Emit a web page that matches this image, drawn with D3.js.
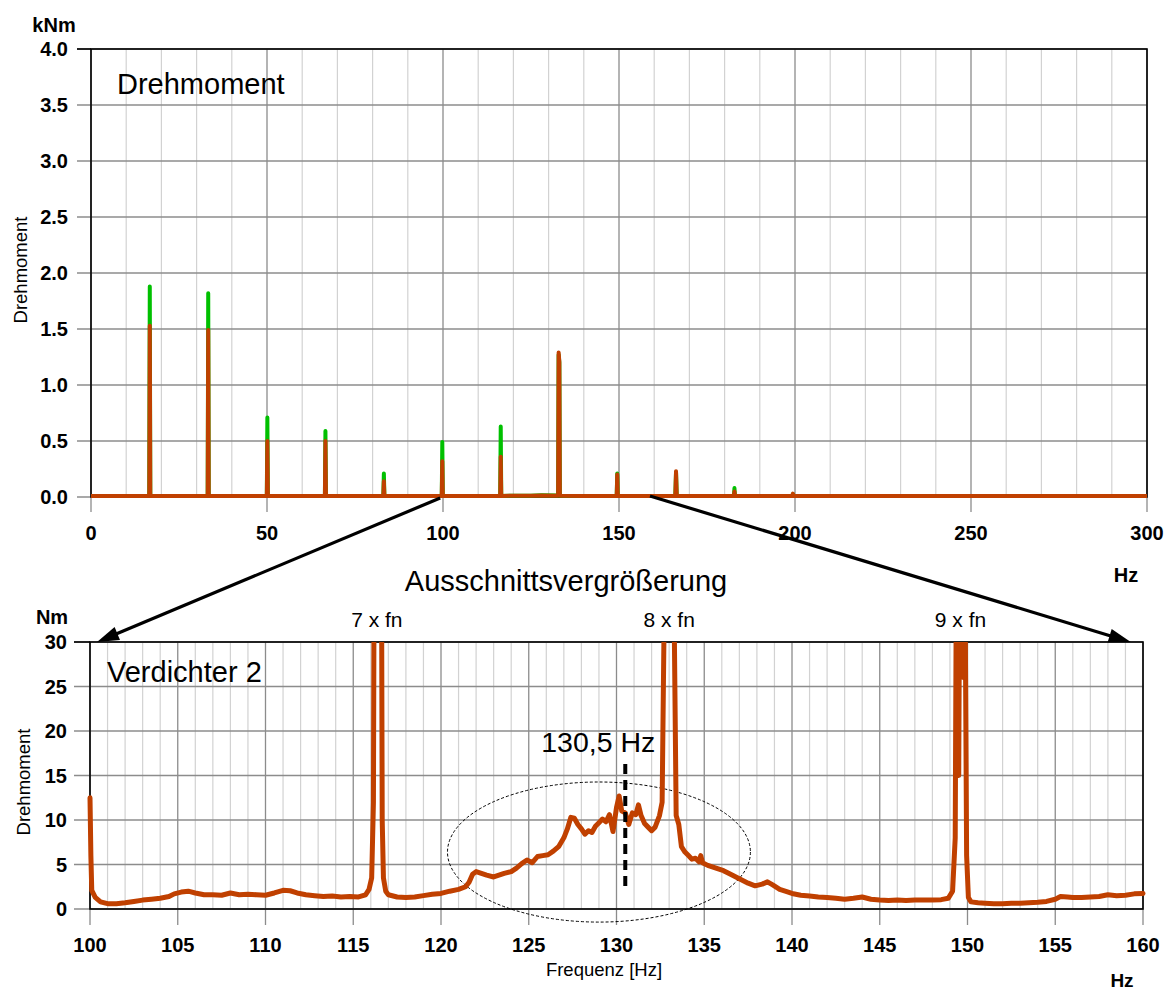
<!DOCTYPE html>
<html>
<head>
<meta charset="utf-8">
<script src="https://cdn.jsdelivr.net/npm/d3@7"></script>
<style>
  html, body { margin: 0; padding: 0; background: #fff; }
  svg { display: block; }
  text { font-family: "Liberation Sans", Arial, sans-serif; fill: #000; }
</style>
</head>
<body>
<svg id="chart" width="1168" height="992"></svg>
<script>
// ---- Overview spectrum (0–300 Hz, kNm) ----
const topHz = [0, 16.55, 16.7, 16.85, 33.15, 33.3, 33.45, 49.95, 50.1, 50.25, 66.45, 66.6, 66.75,
  83.05, 83.2, 83.35, 99.65, 99.8, 99.95, 116.25, 116.4, 116.55, 125, 128, 132.7, 132.85, 133.05, 133.2,
  140, 149.35, 149.5, 149.65, 166.0, 166.2, 166.4, 182.65, 182.8, 182.95, 199.25, 199.4, 199.55, 233, 300];
const topGreen = [0.01, 0.01, 1.88, 0.01, 0.01, 1.82, 0.01, 0.01, 0.71, 0.01, 0.01, 0.59, 0.01,
  0.01, 0.21, 0.01, 0.01, 0.49, 0.01, 0.01, 0.63, 0.01, 0.012, 0.016, 0.013, 1.27, 1.2, 0.012,
  0.01, 0.01, 0.21, 0.01, 0.01, 0.22, 0.01, 0.01, 0.08, 0.01, 0.01, 0.025, 0.01, 0.01, 0.01];
const topRed = [0.01, 0.01, 1.53, 0.01, 0.01, 1.49, 0.01, 0.01, 0.50, 0.01, 0.01, 0.50, 0.01,
  0.01, 0.14, 0.01, 0.01, 0.32, 0.01, 0.01, 0.36, 0.01, 0.011, 0.013, 0.012, 1.29, 1.21, 0.012,
  0.01, 0.01, 0.20, 0.01, 0.01, 0.23, 0.01, 0.01, 0.05, 0.01, 0.01, 0.03, 0.01, 0.01, 0.01];
const topXTicks = [0, 50, 100, 150, 200, 250, 300];
const topYTicks = [0, 0.5, 1, 1.5, 2, 2.5, 3, 3.5, 4];

// ---- Zoomed spectrum (100–160 Hz, Nm) ----
const botHz = [100.0, 100.05, 100.1, 100.3, 100.6, 101.0, 101.5, 102.0, 102.5, 103.0, 103.5, 104.0, 104.5,
  104.8, 105.2, 105.6, 106.0, 106.5, 107.0, 107.5, 108.0, 108.5, 109.0, 109.5, 110.0, 110.5, 111.0, 111.4,
  111.8, 112.3, 112.8, 113.3, 113.8, 114.3, 114.8, 115.3, 115.7, 115.9, 116.05, 116.15, 116.22, 116.4,
  116.58, 116.65, 116.72, 116.85, 117.0, 117.5, 118.0, 118.5, 119.0, 119.5, 120.0, 120.5, 121.0, 121.4,
  121.6, 121.8, 122.0, 122.3, 122.6, 123.0, 123.3, 123.6, 124.0, 124.3, 124.6, 124.9, 125.2, 125.5, 125.8,
  126.1, 126.4, 126.7, 127.0, 127.2, 127.4, 127.6, 127.8, 128.0, 128.2, 128.4, 128.6, 128.8, 129.0, 129.2,
  129.4, 129.6, 129.8, 130.0, 130.15, 130.3, 130.5, 130.7, 130.9, 131.1, 131.25, 131.4, 131.6, 131.8,
  132.0, 132.2, 132.45, 132.6, 132.7, 132.85, 133.0, 133.15, 133.3, 133.4, 133.55, 133.7, 133.9, 134.1,
  134.3, 134.5, 134.7, 134.8, 134.9, 135.2, 135.5, 135.8, 136.1, 136.5, 137.0, 137.5, 137.9, 138.3, 138.6,
  138.9, 139.3, 139.7, 140.0, 140.5, 141.0, 141.5, 142.0, 142.5, 143.0, 143.5, 144.0, 144.5, 145.0, 145.5,
  146.0, 146.5, 147.0, 147.5, 148.0, 148.5, 148.9, 149.15, 149.3, 149.38, 149.5, 149.6, 149.75, 149.85,
  149.95, 150.05, 150.2, 150.6, 151.0, 151.5, 152.0, 152.5, 153.0, 153.5, 154.0, 154.5, 155.0, 155.3,
  155.7, 156.0, 156.5, 157.0, 157.5, 158.0, 158.5, 159.0, 159.5, 160.0];
const botNm = [12.5, 6, 2.1, 1.3, 0.8, 0.6, 0.6, 0.7, 0.85, 1.0, 1.1, 1.2, 1.4,
  1.7, 1.9, 2.0, 1.8, 1.6, 1.6, 1.55, 1.8, 1.6, 1.65, 1.6, 1.55, 1.8, 2.1, 2.05,
  1.8, 1.6, 1.5, 1.4, 1.45, 1.35, 1.4, 1.35, 1.6, 2.2, 3.5, 12, 60, 360,
  60, 10, 3.5, 2.0, 1.6, 1.35, 1.3, 1.35, 1.5, 1.65, 1.75, 2.0, 2.2, 2.5,
  3.0, 3.9, 4.2, 4.0, 3.8, 3.6, 3.8, 4.0, 4.2, 4.6, 5.1, 5.5, 5.2, 5.9, 6.0,
  6.1, 6.5, 7.0, 8.0, 9.0, 10.3, 10.2, 9.5, 9.0, 8.4, 8.8, 8.6, 9.3, 9.7, 10.1,
  9.8, 10.6, 8.7, 11.4, 12.7, 11.0, 10.8, 9.5, 10.8, 10.6, 11.7, 10.5, 9.6, 9.2,
  8.8, 9.2, 10.5, 12, 30, 150, 1290, 150, 30, 10.5, 9.5, 7.0, 6.4, 6.0,
  5.6, 5.7, 5.3, 6.0, 5.2, 4.9, 4.7, 4.5, 4.3, 3.9, 3.4, 2.9, 2.6, 2.8, 3.05,
  2.7, 2.2, 1.95, 1.75, 1.55, 1.45, 1.35, 1.3, 1.2, 1.1, 1.2, 1.35, 1.1, 1.0, 0.95,
  1.0, 0.95, 1.0, 1.0, 1.0, 1.05, 1.2, 2.0, 8, 45, 15, 60, 26, 40,
  6, 1.3, 0.8, 0.7, 0.65, 0.6, 0.6, 0.65, 0.65, 0.7, 0.75, 0.85, 1.1, 1.4,
  1.35, 1.3, 1.3, 1.35, 1.4, 1.6, 1.5, 1.55, 1.7, 1.75];
const botXTicks = [100, 105, 110, 115, 120, 125, 130, 135, 140, 145, 150, 155, 160];
const botYTicks = [0, 5, 10, 15, 20, 25, 30];

// harmonic labels above the zoomed plot
const harmonicLabels = ["7 x fn", "8 x fn", "9 x fn"];
const harmonicHz = [116.4, 133.0, 149.6];
// marked resonance
const resonanceHz = 130.5;
const resonanceLabel = "130,5 Hz";

const RED = "#c04000", GREEN = "#00c000";
const GRID_MAJOR = "#8c8c8c", GRID_MINOR = "#d2d2d2";

const svg = d3.select("#chart");

function panel(cfg) {
  const { x, y, xMinorStep, xMajorTicks, yTicks, yFmt } = cfg;
  const [x0, x1] = x.range();
  const [yb, yt] = y.range();
  const g = svg.append("g");

  // minor vertical grid
  const dom = x.domain();
  const minor = d3.range(dom[0], dom[1] + 1e-9, xMinorStep)
    .filter(v => !xMajorTicks.some(m => Math.abs(m - v) < 1e-6));
  g.selectAll(".vminor").data(minor).join("line")
    .attr("x1", d => x(d)).attr("x2", d => x(d))
    .attr("y1", yt).attr("y2", yb)
    .attr("stroke", GRID_MINOR).attr("stroke-width", 1.2);

  // major vertical grid + ticks below
  g.selectAll(".vmajor").data(xMajorTicks).join("line")
    .attr("x1", d => x(d)).attr("x2", d => x(d))
    .attr("y1", yt).attr("y2", yb + cfg.xTickLen)
    .attr("stroke", GRID_MAJOR).attr("stroke-width", 1.3);

  // horizontal grid with ticks to the left
  g.selectAll(".hgrid").data(yTicks).join("line")
    .attr("x1", x0 - cfg.yTickLen).attr("x2", x1)
    .attr("y1", d => y(d)).attr("y2", d => y(d))
    .attr("stroke", GRID_MAJOR).attr("stroke-width", 1.3);

  // frame
  g.append("rect")
    .attr("x", x0).attr("y", yt).attr("width", x1 - x0).attr("height", yb - yt)
    .attr("fill", "none").attr("stroke", "#000").attr("stroke-width", 1.6);
  g.append("line").attr("x1", x0 - cfg.yTickLen).attr("x2", x0)
    .attr("y1", yt).attr("y2", yt).attr("stroke", "#000").attr("stroke-width", 1.6);

  // y tick labels
  g.selectAll(".ylab").data(yTicks).join("text")
    .attr("x", cfg.yLabelRight).attr("y", d => y(d)).attr("dy", "0.36em")
    .attr("text-anchor", "end").attr("font-weight", "bold").attr("font-size", 20)
    .text(yFmt);

  // x tick labels
  g.selectAll(".xlab").data(xMajorTicks).join("text")
    .attr("x", d => x(d)).attr("y", cfg.xLabelBaseline)
    .attr("text-anchor", "middle").attr("font-weight", "bold").attr("font-size", 20)
    .text(d => d);

  return g;
}

// ===== Overview panel =====
const xTop = d3.scaleLinear().domain([0, 300]).range([91, 1147]);
const yTop = d3.scaleLinear().domain([0, 4]).range([497, 49]);
panel({ x: xTop, y: yTop, xMinorStep: 10, xMajorTicks: topXTicks, yTicks: topYTicks,
  yFmt: d3.format(".1f"), xTickLen: 15, yTickLen: 14, yLabelRight: 68, xLabelBaseline: 540 });

svg.append("defs").append("clipPath").attr("id", "clipTop")
  .append("rect").attr("x", 91).attr("y", 40).attr("width", 1056).attr("height", 462);

const lineTop = (vals) => d3.line()
  .x((d, i) => xTop(topHz[i])).y(d => yTop(d))(vals);

svg.append("path").attr("d", lineTop(topGreen)).attr("clip-path", "url(#clipTop)")
  .attr("fill", "none").attr("stroke", GREEN).attr("stroke-width", 4)
  .attr("stroke-linejoin", "round").attr("stroke-linecap", "round");
svg.append("path").attr("d", lineTop(topRed)).attr("clip-path", "url(#clipTop)")
  .attr("fill", "none").attr("stroke", RED).attr("stroke-width", 4)
  .attr("stroke-linejoin", "round").attr("stroke-linecap", "round");

svg.append("text").attr("x", 54).attr("y", 32).attr("text-anchor", "middle")
  .attr("font-weight", "bold").attr("font-size", 20).text("kNm");
svg.append("text").attr("x", 117).attr("y", 94).attr("font-size", 29).text("Drehmoment");
svg.append("text").attr("transform", "translate(27,270) rotate(-90)")
  .attr("text-anchor", "middle").attr("font-size", 18.5).text("Drehmoment");
svg.append("text").attr("x", 1126).attr("y", 582).attr("text-anchor", "middle")
  .attr("font-weight", "bold").attr("font-size", 20).text("Hz");

// ===== Zoomed panel =====
const xBot = d3.scaleLinear().domain([100, 160]).range([90, 1143]);
const yBot = d3.scaleLinear().domain([0, 30]).range([909, 642]);
panel({ x: xBot, y: yBot, xMinorStep: 1, xMajorTicks: botXTicks, yTicks: botYTicks,
  yFmt: d => d, xTickLen: 16, yTickLen: 16, yLabelRight: 67, xLabelBaseline: 952 });

svg.select("defs").append("clipPath").attr("id", "clipBot")
  .append("rect").attr("x", 86).attr("y", 642).attr("width", 1061).attr("height", 272);

// dotted ellipse around the broadband hump
const ell = { cx: 129.0, cy: 6.4, rx: 8.63, ry: 7.87 };
svg.append("ellipse")
  .attr("cx", xBot(ell.cx)).attr("cy", yBot(ell.cy))
  .attr("rx", xBot(ell.cx + ell.rx) - xBot(ell.cx))
  .attr("ry", yBot(ell.cy) - yBot(ell.cy + ell.ry))
  .attr("fill", "none").attr("stroke", "#000").attr("stroke-width", 1)
  .attr("stroke-dasharray", "3,2");

const lineBot = d3.line().x((d, i) => xBot(botHz[i])).y(d => yBot(d));
svg.append("path").attr("d", lineBot(botNm)).attr("clip-path", "url(#clipBot)")
  .attr("fill", "none").attr("stroke", RED).attr("stroke-width", 5)
  .attr("stroke-linejoin", "round").attr("stroke-linecap", "round");

// marked resonance
svg.append("line")
  .attr("x1", xBot(resonanceHz)).attr("x2", xBot(resonanceHz))
  .attr("y1", yBot(16.3)).attr("y2", yBot(2.4))
  .attr("stroke", "#000").attr("stroke-width", 4).attr("stroke-dasharray", "10,6");
svg.append("text").attr("x", xBot(resonanceHz) - 27).attr("y", 752)
  .attr("text-anchor", "middle").attr("font-size", 28.5).text(resonanceLabel);

svg.selectAll(".harm").data(harmonicLabels).join("text")
  .attr("x", (d, i) => xBot(harmonicHz[i]) - (i === 0 ? 1 : 0))
  .attr("y", 627).attr("text-anchor", "middle").attr("font-size", 21).text(d => d);

svg.append("text").attr("x", 52).attr("y", 624).attr("text-anchor", "middle")
  .attr("font-weight", "bold").attr("font-size", 20).text("Nm");
svg.append("text").attr("x", 107).attr("y", 682).attr("font-size", 29).text("Verdichter 2");
svg.append("text").attr("transform", "translate(30,782) rotate(-90)")
  .attr("text-anchor", "middle").attr("font-size", 18.5).text("Drehmoment");
svg.append("text").attr("x", 604).attr("y", 976).attr("text-anchor", "middle")
  .attr("font-size", 18.5).text("Frequenz [Hz]");
svg.append("text").attr("x", 1122).attr("y", 987).attr("text-anchor", "middle")
  .attr("font-weight", "bold").attr("font-size", 19).text("Hz");
svg.append("text").attr("x", 566).attr("y", 591).attr("text-anchor", "middle")
  .attr("font-size", 29).text("Ausschnittsvergrößerung");

// zoom arrows from the overview axis to the zoomed panel corners
const arrows = [
  { from: [xTop(99.2), 498], to: [xBot(100.4), 642] },
  { from: [xTop(158.8), 496], to: [xBot(159.3), 642] }
];
arrows.forEach(a => {
  const [fx, fy] = a.from, [tx, ty] = a.to;
  const dx = tx - fx, dy = ty - fy, len = Math.hypot(dx, dy);
  const ux = dx / len, uy = dy / len;
  const headLen = 22, headHalf = 7;
  const bx = tx - ux * headLen, by = ty - uy * headLen;
  svg.append("line").attr("x1", fx).attr("y1", fy).attr("x2", bx + ux * 2).attr("y2", by + uy * 2)
    .attr("stroke", "#000").attr("stroke-width", 3.2);
  svg.append("path")
    .attr("d", `M${tx},${ty}L${bx - uy * headHalf},${by + ux * headHalf}L${bx + uy * headHalf},${by - ux * headHalf}Z`)
    .attr("fill", "#000");
});
</script>
</body>
</html>
